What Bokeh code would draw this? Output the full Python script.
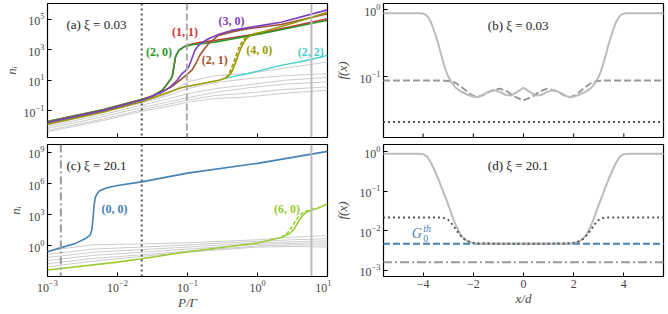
import numpy as np
from bokeh.plotting import figure
from bokeh.layouts import gridplot
from bokeh.models import FixedTicker, Span, Label, Range1d
from bokeh.embed import file_html
from bokeh.resources import INLINE

# ---------------- panel (a): xi = 0.03, log10 P/Gamma vs log10 n_i ----------------
a_logP_green = [-3.0, -2.21, -1.657, -1.5, -1.36, -1.29, -1.219, -1.195, -1.172, -1.124, -1.054, -0.936, -0.611, 0.053, 1.0]
a_logn_green = [-1.72, -0.95, -0.27, -0.05, 0.34, 0.75, 1.22, 1.87, 2.53, 2.97, 3.18, 3.34, 3.51, 4.06, 4.95]
a_logP_red = [-3.0, -2.21, -1.657, -1.5, -1.36, -1.29, -1.219, -1.195, -1.172, -1.124, -1.054, -0.936, -0.795, -0.611, -0.135, 0.053, 1.0]
a_logn_red = [-1.72, -0.95, -0.27, -0.05, 0.34, 0.75, 1.22, 1.87, 2.53, 2.97, 3.2, 3.38, 3.51, 3.62, 3.95, 4.1, 5.05]
a_logP_purple = [-3.0, -2.21, -1.657, -1.36, -1.25, -1.148, -1.078, -1.03, -0.983, -0.94, -0.894, -0.85, -0.80, -0.70, -0.55, -0.371, 0.0, 0.336, 1.0]
a_logn_purple = [-1.78, -1.0, -0.32, 0.23, 0.55, 1.0, 1.44, 1.62, 1.87, 2.4, 2.97, 3.25, 3.45, 3.73, 4.02, 4.28, 4.56, 4.82, 5.63]
a_logP_brown = [-3.0, -2.21, -1.657, -1.36, -1.219, -1.078, -0.936, -0.88, -0.823, -0.76, -0.70, -0.559, -0.35, -0.135, 0.336, 1.0]
a_logn_brown = [-1.78, -1.0, -0.32, 0.23, 0.6, 1.11, 1.66, 2.1, 2.64, 3.05, 3.4, 3.95, 4.2, 4.39, 4.67, 5.37]
a_logP_olive = [-3.0, -2.21, -1.657, -1.078, -0.55, -0.45, -0.38, -0.33, -0.28, -0.23, -0.18, -0.135, -0.05, 0.095, 0.5, 1.0]
a_logn_olive = [-1.89, -1.1, -0.42, 0.52, 1.0, 1.15, 1.45, 1.95, 2.6, 3.2, 3.6, 3.85, 4.05, 4.2, 4.75, 5.48]
a_logP_olive_dash = [-0.45, -0.40, -0.35, -0.30, -0.25, -0.20, -0.15]
a_logn_olive_dash = [1.15, 1.5, 2.05, 2.7, 3.3, 3.65, 3.87]
a_logP_cyan = [-0.45, -0.33, -0.135, 0.336, 0.7, 1.0]
a_logn_cyan = [1.15, 1.25, 1.44, 1.98, 2.3, 2.64]
a_logP_gray = [-3.0, -2.2, -1.657, -1.3, -1.0, -0.6, -0.135, 0.4, 1.0]
a_logn_gray = [
    [-1.9, -1.05, -0.45, 0.05, 0.9, 1.3, 1.45, 1.8, 2.2],
    [-1.95, -1.1, -0.5, -0.05, 0.45, 0.85, 1.1, 1.3, 1.44],
    [-2.05, -1.25, -0.65, -0.25, 0.1, 0.45, 0.7, 1.0, 1.18],
    [-2.17, -1.4, -0.8, -0.45, -0.15, 0.2, 0.5, 0.75, 0.89],
    [-2.3, -1.55, -0.95, -0.6, -0.31, 0.0, 0.15, 0.4, 0.56],
    [-2.39, -1.65, -1.05, -0.75, -0.45, -0.2, -0.1, 0.15, 0.34],
]
a_vline_dotted = 0.0222
a_vline_dashed = 0.098
vline_solid = 5.9

# ---------------- panel (c): xi = 20.1 ----------------
c_logP_blue = [-3.0, -2.816, -2.6, -2.45, -2.39, -2.365, -2.35, -2.335, -2.32, -2.29, -2.255, -2.15, -2.0, -1.657, -1.0, 0.0, 1.0]
c_logn_blue = [-0.56, -0.18, 0.25, 0.75, 1.05, 1.6, 2.6, 3.8, 4.6, 5.05, 5.3, 5.6, 5.81, 6.16, 7.0, 7.94, 9.09]
c_logP_green = [-3.0, -2.0, -1.657, -1.0, 0.0, 0.336, 0.45, 0.52, 0.58, 0.64, 0.70, 0.77, 0.85, 1.0]
c_logn_green = [-2.31, -1.55, -1.22, -0.55, 0.28, 0.82, 1.15, 1.6, 2.3, 2.9, 3.25, 3.45, 3.6, 4.03]
c_logP_green_dash = [0.336, 0.42, 0.49, 0.55, 0.61, 0.67, 0.74, 0.80]
c_logn_green_dash = [0.82, 1.2, 1.8, 2.5, 3.0, 3.3, 3.45, 3.55]
c_logP_gray = [-3.0, -2.35, -1.657, -1.0, 0.0, 0.5, 1.0]
c_logn_gray = [
    [-0.45, 0.12, 0.2, 0.3, 0.6, 0.85, 1.0],
    [-0.8, -0.3, -0.1, 0.1, 0.45, 0.6, 0.7],
    [-1.1, -0.6, -0.35, -0.1, 0.3, 0.4, 0.5],
    [-1.4, -0.9, -0.6, -0.3, 0.15, 0.25, 0.3],
    [-1.7, -1.2, -0.85, -0.5, 0.0, 0.1, 0.1],
    [-2.0, -1.45, -1.0, -0.6, -0.1, -0.05, -0.1],
]
c_vline_dashdot = 0.00155
c_vline_dotted = 0.0222

# ---------------- panel (b): f(x), xi = 0.03 ----------------
b_x_solid = [-5.6, -4.2, -4.0, -3.9, -3.8, -3.7, -3.6, -3.5, -3.4, -3.3, -3.2, -3.1, -3.0, -2.85, -2.7, -2.5, -2.2, -1.9, -1.7, -1.45, -1.2, -0.95, -0.7, -0.5, -0.25, 0.0,
             0.25, 0.5, 0.7, 0.95, 1.2, 1.45, 1.7, 1.9, 2.2, 2.5, 2.7, 2.85, 3.0, 3.1, 3.2, 3.3, 3.4, 3.5, 3.6, 3.7, 3.8, 3.9, 4.0, 4.2, 5.6]
b_f_solid = [0.88, 0.88, 0.87, 0.84, 0.77, 0.66, 0.53, 0.41, 0.31, 0.225, 0.165, 0.125, 0.1, 0.08, 0.068, 0.06, 0.053, 0.049, 0.051, 0.058, 0.063, 0.059, 0.053, 0.052, 0.059, 0.068,
             0.059, 0.052, 0.053, 0.059, 0.063, 0.058, 0.051, 0.049, 0.053, 0.06, 0.068, 0.08, 0.1, 0.125, 0.165, 0.225, 0.31, 0.41, 0.53, 0.66, 0.77, 0.84, 0.87, 0.88, 0.88]
b_x_dashed = [-5.6, -3.2, -2.9, -2.7, -2.5, -2.3, -2.1, -1.86, -1.6, -1.3, -0.95, -0.65, -0.35, 0.0,
              0.35, 0.65, 0.95, 1.3, 1.6, 1.86, 2.1, 2.3, 2.5, 2.7, 2.9, 3.2, 5.6]
b_f_dashed = [0.087, 0.087, 0.085, 0.08, 0.071, 0.062, 0.054, 0.049, 0.053, 0.061, 0.066, 0.06, 0.05, 0.044,
              0.05, 0.06, 0.066, 0.061, 0.053, 0.049, 0.054, 0.062, 0.071, 0.08, 0.085, 0.087, 0.087]
b_x_dotted = [-5.6, 5.6]
b_f_dotted = [0.021, 0.021]

# ---------------- panel (d): f(x), xi = 20.1 ----------------
d_x_solid = [-5.6, -4.2, -4.0, -3.85, -3.7, -3.55, -3.4, -3.25, -3.1, -2.95, -2.8, -2.65, -2.5, -2.35, -2.2, -2.0, -1.8, 0.0,
             1.8, 2.0, 2.2, 2.35, 2.5, 2.65, 2.8, 2.95, 3.1, 3.25, 3.4, 3.55, 3.7, 3.85, 4.0, 4.2, 5.6]
d_f_solid = [0.9, 0.9, 0.88, 0.78, 0.55, 0.35, 0.21, 0.12, 0.068, 0.038, 0.02, 0.012, 0.0078, 0.0062, 0.0054, 0.0049, 0.0047, 0.0047,
             0.0047, 0.0049, 0.0054, 0.0062, 0.0078, 0.012, 0.02, 0.038, 0.068, 0.12, 0.21, 0.35, 0.55, 0.78, 0.88, 0.9, 0.9]
d_x_dotted = [-5.6, -3.3, -3.15, -3.0, -2.85, -2.7, -2.55, -2.4, -2.2, -2.0, -1.8, 0.0,
              1.8, 2.0, 2.2, 2.4, 2.55, 2.7, 2.85, 3.0, 3.15, 3.3, 5.6]
d_f_dotted = [0.022, 0.022, 0.021, 0.019, 0.015, 0.011, 0.0082, 0.0064, 0.0054, 0.005, 0.0048, 0.0047,
              0.0048, 0.005, 0.0054, 0.0064, 0.0082, 0.011, 0.015, 0.019, 0.021, 0.022, 0.022]
d_G0th = 0.0047
d_dashdot = 0.0016

# tick values
a_yticks = [1e-1, 1e1, 1e3, 1e5]
c_yticks = [1e0, 1e3, 1e6, 1e9]
P_ticks = [1e-3, 1e-2, 1e-1, 1e0, 1e1]
b_yticks = [1e-1, 1e0]
d_yticks = [1e-3, 1e-2, 1e-1, 1e0]
x_ticks = [-4, -2, 0, 2, 4]

C_GREEN = "#2e962e"
C_RED = "#cc3333"
C_PURPLE = "#7d3fbf"
C_BROWN = "#a0522d"
C_OLIVE = "#999900"
C_CYAN = "#48d1cc"
C_BLUE = "#4682b4"
C_YGREEN = "#9acd32"
C_LGRAY = "#cccccc"
C_VGRAY = "#bbbbbb"
C_MGRAY = "#999999"
C_DGRAY = "#555555"

SERIF = "Liberation Serif"
W_L, W_R = 331, 335
H_T, H_B = 140, 172


def make(w, h, xtype, ytype, xr, yr, bl, br, bt, bb, show_x, ylabel_standoff):
    p = figure(width=w, height=h, x_axis_type=xtype, y_axis_type=ytype,
               x_range=Range1d(*xr), y_range=Range1d(*yr), output_backend="svg",
               toolbar_location=None, min_border_left=bl, min_border_right=br,
               min_border_top=bt, min_border_bottom=bb,
               x_axis_location="below" if show_x else None)
    p.grid.visible = False
    p.outline_line_color = "black"
    p.outline_line_width = 1.2
    p.background_fill_color = "white"
    p.border_fill_color = "white"
    axes = [p.yaxis[0]] + ([p.xaxis[0]] if show_x else [])
    for ax in axes:
        ax.major_tick_in = 4
        ax.major_tick_out = 0
        ax.minor_tick_line_color = None
        ax.axis_line_color = None
        ax.major_tick_line_color = "black"
        ax.major_tick_line_width = 1
        ax.major_label_text_font = SERIF
        ax.major_label_text_font_size = "12px"
        ax.major_label_standoff = 3
        ax.axis_label_text_font = SERIF
        ax.axis_label_text_font_style = "italic"
        ax.axis_label_text_font_size = "13px"
        ax.axis_label_standoff = 0
    p.yaxis.axis_label_standoff = ylabel_standoff
    return p


def L(v):
    return 10 ** np.array(v, dtype=float)


def bottom_ticks(p, ticks, ybottom):
    # inward tick marks on the bottom edge of panels without tick labels
    p.scatter(x=ticks, y=[ybottom] * len(ticks), marker="dash", angle=np.pi / 2, size=8,
              line_color="black", line_width=1)


# ---------- (a) ----------
a_yr = (10 ** -2.77, 10 ** 6.05)
pa = make(W_L, H_T, "log", "log", (1e-3, 1e1), a_yr, 44, 4, 3, 3, False, 2)
pa.yaxis.ticker = FixedTicker(ticks=a_yticks)
pa.yaxis.axis_label = "nᵢ"
for g in a_logn_gray:
    pa.line(L(a_logP_gray), L(g), line_color=C_LGRAY, line_width=1)
pa.line(L(a_logP_red), L(a_logn_red), line_color=C_RED, line_width=1.6)
pa.line(L(a_logP_green), L(a_logn_green), line_color=C_GREEN, line_width=1.6)
pa.line(L(a_logP_cyan), L(a_logn_cyan), line_color=C_CYAN, line_width=1.4)
pa.line(L(a_logP_brown), L(a_logn_brown), line_color=C_BROWN, line_width=1.6)
pa.line(L(a_logP_olive_dash), L(a_logn_olive_dash), line_color=C_OLIVE, line_width=1.6, line_dash="4 2")
pa.line(L(a_logP_olive), L(a_logn_olive), line_color=C_OLIVE, line_width=1.6)
pa.line(L(a_logP_purple), L(a_logn_purple), line_color=C_PURPLE, line_width=1.6)
pa.add_layout(Span(location=a_vline_dotted, dimension="height", line_color=C_DGRAY, line_width=2, line_dash="2 3"))
pa.add_layout(Span(location=a_vline_dashed, dimension="height", line_color="#aaaaaa", line_width=2, line_dash="7 3"))
pa.add_layout(Span(location=vline_solid, dimension="height", line_color=C_VGRAY, line_width=2))
bottom_ticks(pa, P_ticks, a_yr[0])

labs_a = [("(2, 0)", -1.407, 2.84, C_GREEN), ("(1, 1)", -1.035, 4.15, C_RED), ("(3, 0)", -0.371, 4.93, C_PURPLE),
          ("(2, 1)", -0.611, 2.31, C_BROWN), ("(4, 0)", 0.025, 2.97, C_OLIVE), ("(2, 2)", 0.76, 2.84, C_CYAN)]
for t, lx, ly, col in labs_a:
    pa.add_layout(Label(x=10 ** lx, y=10 ** ly, text=t, text_color=col, text_font=SERIF, text_font_style="bold",
                        text_font_size="12px", text_align="center", text_baseline="middle"))
pa.add_layout(Label(x=10 ** -2.73, y=10 ** 4.67, text="(a) ξ = 0.03", text_font=SERIF, text_font_size="13px",
                    text_align="left", text_baseline="middle", text_color="#222222"))

# ---------- (c) ----------
pc = make(W_L, H_B, "log", "log", (1e-3, 1e1), (10 ** -2.93, 10 ** 9.75), 44, 4, 4, 33, True, 2)
pc.yaxis.ticker = FixedTicker(ticks=c_yticks)
pc.xaxis.ticker = FixedTicker(ticks=P_ticks)
pc.yaxis.axis_label = "nᵢ"
pc.xaxis.axis_label = "P/Γ"
for g in c_logn_gray:
    pc.line(L(c_logP_gray), L(g), line_color=C_LGRAY, line_width=1)
pc.line(L(c_logP_green_dash), L(c_logn_green_dash), line_color=C_YGREEN, line_width=1.5, line_dash="4 2")
pc.line(L(c_logP_green), L(c_logn_green), line_color=C_YGREEN, line_width=1.6)
pc.line(L(c_logP_blue), L(c_logn_blue), line_color=C_BLUE, line_width=1.6)
pc.add_layout(Span(location=c_vline_dashdot, dimension="height", line_color=C_MGRAY, line_width=2, line_dash="8 3 2 3"))
pc.add_layout(Span(location=c_vline_dotted, dimension="height", line_color=C_DGRAY, line_width=2, line_dash="2 3"))
pc.add_layout(Span(location=vline_solid, dimension="height", line_color=C_VGRAY, line_width=2))
pc.add_layout(Label(x=10 ** -2.043, y=10 ** 3.56, text="(0, 0)", text_color=C_BLUE, text_font=SERIF, text_font_style="bold",
                    text_font_size="12px", text_align="center", text_baseline="middle"))
pc.add_layout(Label(x=10 ** 0.42, y=10 ** 3.56, text="(6, 0)", text_color=C_YGREEN, text_font=SERIF, text_font_style="bold",
                    text_font_size="12px", text_align="center", text_baseline="middle"))
pc.add_layout(Label(x=10 ** -2.73, y=10 ** 7.69, text="(c) ξ = 20.1", text_font=SERIF, text_font_size="13px",
                    text_align="left", text_baseline="middle", text_color="#222222"))

# ---------- (b) ----------
b_yr = (10 ** -1.91, 10 ** 0.09)
pb = make(W_R, H_T, "linear", "log", (-5.58, 5.58), b_yr, 52, 3, 3, 3, False, 7)
pb.yaxis.ticker = FixedTicker(ticks=b_yticks)
pb.yaxis.axis_label = "f(x)"
pb.line(b_x_dotted, b_f_dotted, line_color=C_DGRAY, line_width=2, line_dash="2 3")
pb.line(b_x_dashed, b_f_dashed, line_color=C_MGRAY, line_width=2, line_dash="7 3")
pb.line(b_x_solid, b_f_solid, line_color=C_VGRAY, line_width=2)
bottom_ticks(pb, x_ticks, b_yr[0])
pb.add_layout(Label(x=-0.21, y=10 ** -0.24, text="(b) ξ = 0.03", text_font=SERIF, text_font_size="13px",
                    text_align="center", text_baseline="middle", text_color="#222222"))

# ---------- (d) ----------
pd_ = make(W_R, H_B, "linear", "log", (-5.58, 5.58), (10 ** -3.155, 10 ** 0.19), 52, 3, 4, 33, True, 7)
pd_.yaxis.ticker = FixedTicker(ticks=d_yticks)
pd_.xaxis.ticker = FixedTicker(ticks=x_ticks)
pd_.yaxis.axis_label = "f(x)"
pd_.xaxis.axis_label = "x/d"
pd_.line([-5.6, 5.6], [d_G0th, d_G0th], line_color=C_BLUE, line_width=2, line_dash="7 3")
pd_.line([-5.6, 5.6], [d_dashdot, d_dashdot], line_color=C_MGRAY, line_width=2, line_dash="9 3 2 3")
pd_.line(d_x_solid, d_f_solid, line_color=C_VGRAY, line_width=2)
pd_.line(d_x_dotted, d_f_dotted, line_color=C_DGRAY, line_width=2, line_dash="2 3")
pd_.add_layout(Label(x=-0.21, y=10 ** -0.33, text="(d) ξ = 20.1", text_font=SERIF, text_font_size="13px",
                     text_align="center", text_baseline="middle", text_color="#222222"))
pd_.add_layout(Label(x=-4.45, y=10 ** -2.07, text="G", text_font=SERIF, text_font_style="italic", text_font_size="14px",
                     text_color=C_BLUE, text_align="left", text_baseline="middle"))
pd_.add_layout(Label(x=-4.0, y=10 ** -1.93, text="th", text_font=SERIF, text_font_style="italic", text_font_size="10px",
                     text_color=C_BLUE, text_align="left", text_baseline="middle"))
pd_.add_layout(Label(x=-4.0, y=10 ** -2.2, text="0", text_font=SERIF, text_font_size="10px",
                     text_color=C_BLUE, text_align="left", text_baseline="middle"))

p = gridplot([[pa, pb], [pc, pd_]], toolbar_location=None)
open("out.html", "w").write(file_html(p, INLINE))
